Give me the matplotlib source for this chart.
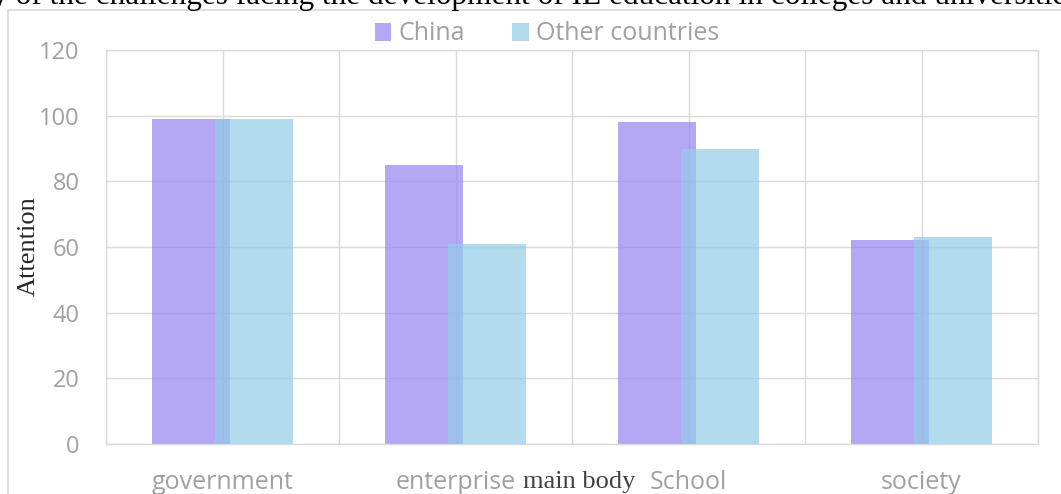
import matplotlib.pyplot as plt
from matplotlib.patches import Patch, Rectangle
import numpy as np

categories = ["government", "enterprise", "School", "society"]
china = [99, 85, 98, 62]
other = [99, 61, 90, 63]
series_names = ["China", "Other countries"]
yticks = [0, 20, 40, 60, 80, 100, 120]

W, H = 1061, 494
china_color = (149 / 255, 132 / 255, 241 / 255)
other_color = (147 / 255, 204 / 255, 231 / 255)
grid_color = "#d9d9d9"
tick_color = "#a0a0a0"
sans = ["Open Sans", "DejaVu Sans"]
serif = ["Liberation Serif", "DejaVu Serif"]

fig = plt.figure(figsize=(W / 100, H / 100), dpi=100)

# outer chart frame (cut by the screenshot on the right and bottom)
fig.patches.append(Rectangle((8 / W, -0.1), 1.2, (H - 9.5) / H + 0.1,
                             transform=fig.transFigure, fill=False,
                             edgecolor=grid_color, linewidth=1.2))

ax = fig.add_axes([106 / W, 50 / H, 932 / W, 394 / H])
x = np.arange(len(categories))
bw = 0.335
ax.bar(x - 0.134, china, width=bw, color=china_color, alpha=0.7, zorder=2,
       label=series_names[0])
ax.bar(x + 0.134, other, width=bw, color=other_color, alpha=0.7, zorder=3,
       label=series_names[1])

ax.set_xlim(-0.5, len(categories) - 0.5)
ax.set_ylim(0, 120)
ax.set_yticks(yticks)
ax.set_xticks(x)
ax.set_xticklabels(categories)
for gx in np.arange(-0.5, len(categories), 0.5):
    ax.axvline(gx, color=grid_color, linewidth=1, zorder=0)
ax.grid(True, which="major", axis="y", color=grid_color, linewidth=1, zorder=0)
ax.tick_params(axis="both", which="both", length=0)
ax.tick_params(axis="y", pad=19)
ax.tick_params(axis="x", pad=19)
for lab in ax.get_xticklabels():
    lab.set_family(sans)
    lab.set_fontsize(18)
    lab.set_color(tick_color)
for lab in ax.get_yticklabels():
    lab.set_family(sans)
    lab.set_fontsize(17)
    lab.set_color(tick_color)
for sp in ax.spines.values():
    sp.set_color(grid_color)
    sp.set_linewidth(1)

handles = [Patch(facecolor=china_color, alpha=0.7),
           Patch(facecolor=other_color, alpha=0.7)]
leg = fig.legend(handles, series_names, loc="center", ncol=2,
                 bbox_to_anchor=(547 / W, 1 - 34 / H), frameon=False,
                 handlelength=0.65, handleheight=0.75, handletextpad=0.3,
                 columnspacing=1.9, borderpad=0,
                 prop={"family": sans, "size": 18})
for t in leg.get_texts():
    t.set_color(tick_color)

fig.text(-81 / W, 1 - 4 / H,
         "Survey of the challenges facing the development of IE education in colleges and universities",
         fontsize=22.5, family=serif, color="black", va="baseline", ha="left")
fig.text(29 / W, 1 - 246 / H, "Attention", rotation=90, fontsize=19,
         family=serif, color="#262626", ha="center", va="center")
fig.text(579 / W, 1 - 488 / H, "main body", fontsize=19, family=serif,
         color="#404040", ha="center", va="baseline")

fig.savefig("out.png", dpi=100)
plt.close(fig)
